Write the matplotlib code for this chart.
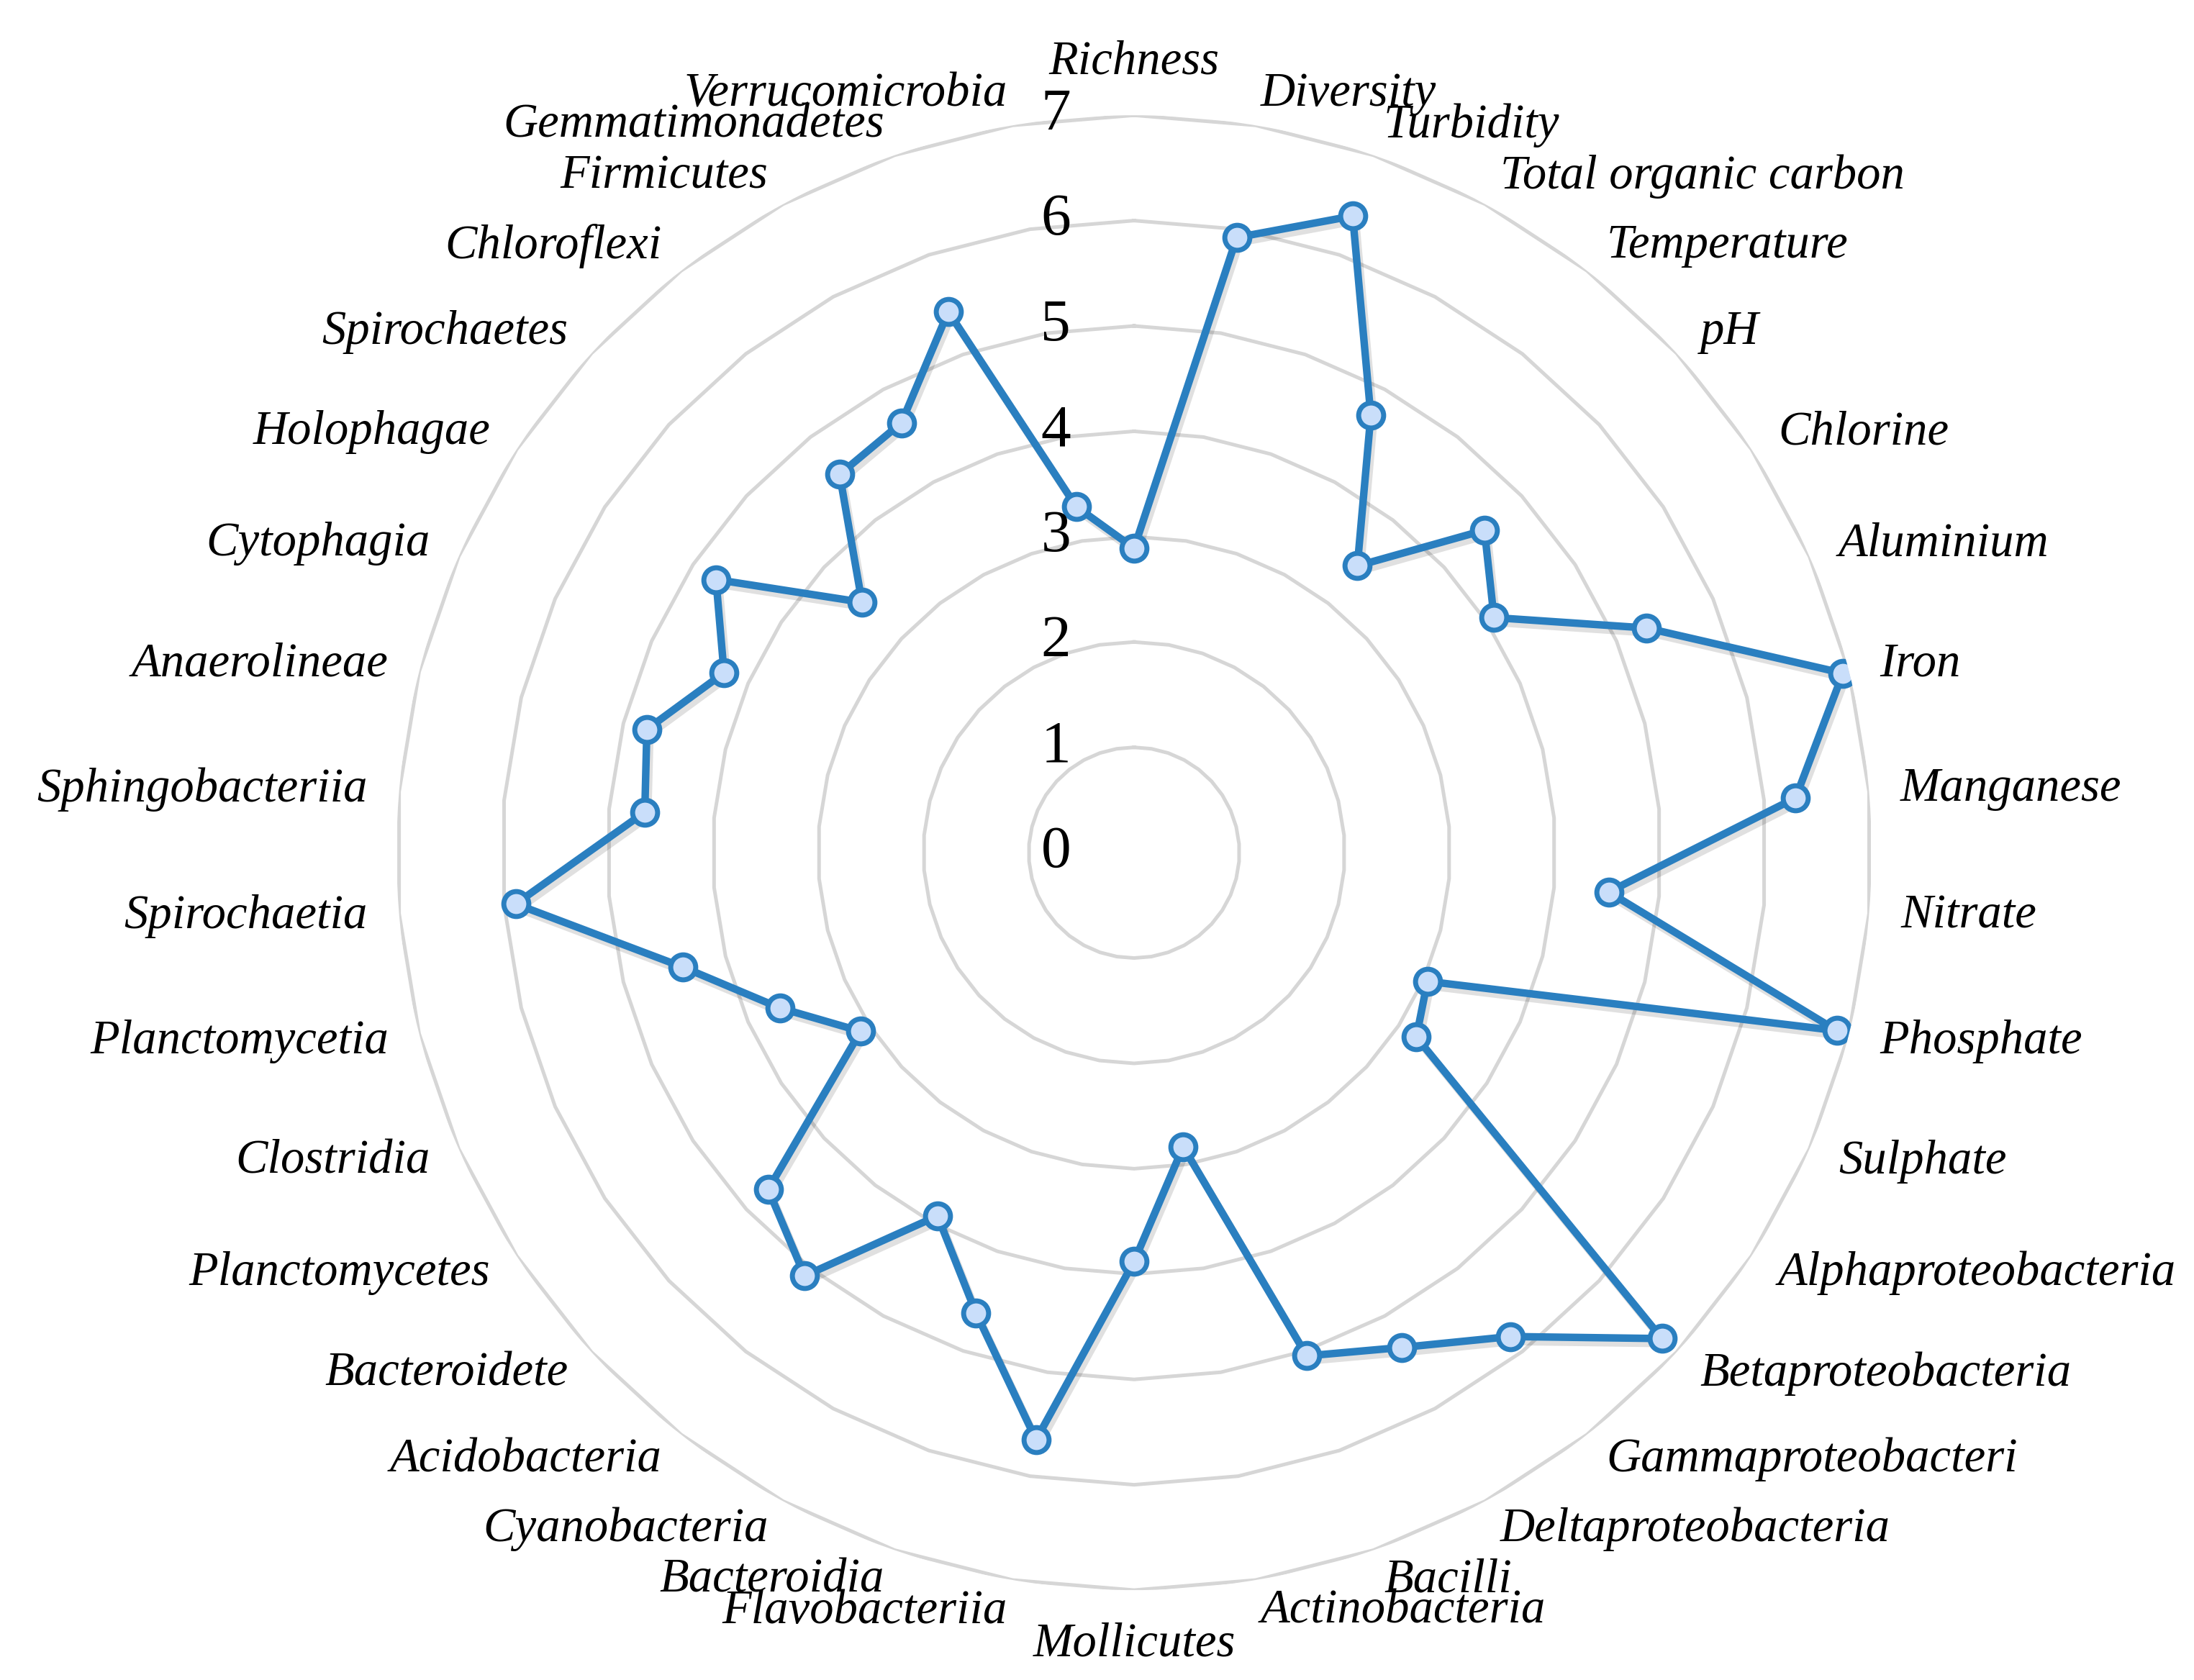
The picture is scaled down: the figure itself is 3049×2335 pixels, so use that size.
import numpy as np
import matplotlib
matplotlib.use('Agg')
import matplotlib.pyplot as plt
import matplotlib.patheffects as pe
from matplotlib.transforms import offset_copy

plt.rcParams['font.family'] = ['Liberation Serif', 'DejaVu Serif']

categories = ['Richness', 'Diversity', 'Turbidity', 'Total organic carbon', 'Temperature',
              'pH', 'Chlorine', 'Aluminium', 'Iron', 'Manganese', 'Nitrate', 'Phosphate',
              'Sulphate', 'Alphaproteobacteria', 'Betaproteobacteria', 'Gammaproteobacteri',
              'Deltaproteobacteria', 'Bacilli', 'Actinobacteria', 'Mollicutes',
              'Flavobacteriia', 'Bacteroidia', 'Cyanobacteria', 'Acidobacteria',
              'Bacteroidete', 'Planctomycetes', 'Clostridia', 'Planctomycetia',
              'Spirochaetia', 'Sphingobacteriia', 'Anaerolineae', 'Cytophagia',
              'Holophagae', 'Spirochaetes', 'Chloroflexi', 'Firmicutes',
              'Gemmatimonadetes', 'Verrucomicrobia']
values = [2.89, 5.92, 6.39, 4.72, 3.45, 4.52, 4.08, 5.31, 6.94, 6.30, 4.52, 6.88,
          3.04, 3.20, 6.81, 5.82, 5.34, 5.05, 2.83, 3.88, 5.65, 4.62, 3.92, 5.09,
          4.72, 3.10, 3.67, 4.42, 5.89, 4.66, 4.77, 4.25, 4.74, 3.51, 4.55, 4.64,
          5.43, 3.33]
ring_levels = [1, 2, 3, 4, 5, 6, 7]
tick_labels = ['0', '1', '2', '3', '4', '5', '6', '7']

line_color = '#2a7fc0'
fill_color = '#c9defa'
grid_color = '#d6d6d6'

n = len(categories)
theta = np.linspace(0, 2 * np.pi, n, endpoint=False)
theta_closed = np.append(theta, theta[0])

fig = plt.figure(figsize=(30.49, 23.35), dpi=100)
ax = fig.add_axes([0.1807, 0.0535, 0.6724, 0.8779], projection='polar')
ax.set_theta_offset(np.pi / 2)
ax.set_theta_direction(-1)
ax.set_ylim(0, 7)
ax.set_axis_off()

# polygon gridlines
for lev in ring_levels:
    ax.plot(theta_closed, [lev] * (n + 1), color=grid_color, lw=3.6, zorder=1)

# series line with soft shadow
vals_closed = values + values[:1]
ax.plot(theta_closed, vals_closed, color=line_color, lw=7.5, zorder=3,
        solid_joinstyle='round',
        path_effects=[pe.SimpleLineShadow(offset=(3, -5), shadow_color='k', alpha=0.12),
                      pe.Normal()])
ax.plot(theta, values, ls='none', marker='o', ms=25, mew=5,
        mec=line_color, mfc=fill_color, zorder=4)

# value axis labels
trans = offset_copy(ax.transData, fig=fig, x=-88, y=0, units='dots')
for i, t in enumerate(tick_labels):
    ax.text(0, i, t, transform=trans, ha='right', va='center', fontsize=60, zorder=5)

# category labels
r_lab = 7.3
for t, name in zip(theta, categories):
    s = np.sin(t)
    c = np.cos(t)
    if abs(s) < 1e-6:
        ha = 'center'
        va = 'bottom' if c > 0 else 'top'
    else:
        ha = 'left' if s > 0 else 'right'
        va = 'center'
    ax.text(t, r_lab, name, ha=ha, va=va, fontsize=48, style='italic', zorder=5)

fig.savefig('out.png', dpi=100, facecolor='white')
